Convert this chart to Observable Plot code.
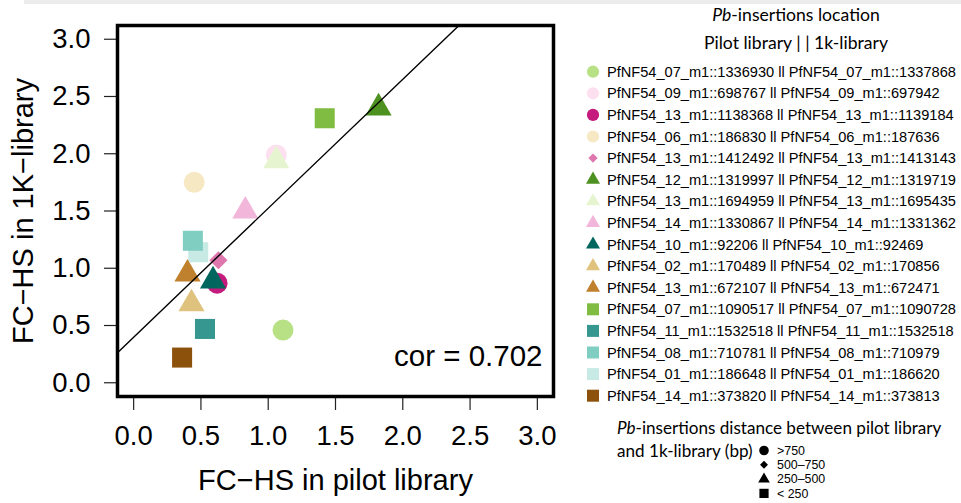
<!DOCTYPE html>
<html>
<head>
<meta charset="utf-8">
<script src="https://cdn.jsdelivr.net/npm/d3@7"></script>
<script src="https://cdn.jsdelivr.net/npm/@observablehq/plot@0.6"></script>
<style>
  html, body { margin: 0; padding: 0; background: #fff; }
  body { width: 961px; height: 503px; position: relative; overflow: hidden; font-family: "Liberation Sans", Arial, sans-serif; }
  #topband { position: absolute; left: 24px; top: 0; width: 937px; height: 4px; background: #ececec; }
  #chart { position: absolute; left: 0; top: 0; }
  #legend { position: absolute; left: 580px; top: 0; }
  svg { overflow: visible; }
</style>
</head>
<body>
<div id="topband"></div>
<div id="chart"></div>
<div id="legend"></div>
<script>
// ---------------- data ----------------
const pilotLoc = [
  "PfNF54_07_m1::1336930", "PfNF54_09_m1::698767", "PfNF54_13_m1::1138368", "PfNF54_06_m1::186830",
  "PfNF54_13_m1::1412492", "PfNF54_12_m1::1319997", "PfNF54_13_m1::1694959", "PfNF54_14_m1::1330867",
  "PfNF54_10_m1::92206", "PfNF54_02_m1::170489", "PfNF54_13_m1::672107", "PfNF54_07_m1::1090517",
  "PfNF54_11_m1::1532518", "PfNF54_08_m1::710781", "PfNF54_01_m1::186648", "PfNF54_14_m1::373820"
];
const k1Loc = [
  "PfNF54_07_m1::1337868", "PfNF54_09_m1::697942", "PfNF54_13_m1::1139184", "PfNF54_06_m1::187636",
  "PfNF54_13_m1::1413143", "PfNF54_12_m1::1319719", "PfNF54_13_m1::1695435", "PfNF54_14_m1::1331362",
  "PfNF54_10_m1::92469", "PfNF54_02_m1::170856", "PfNF54_13_m1::672471", "PfNF54_07_m1::1090728",
  "PfNF54_11_m1::1532518", "PfNF54_08_m1::710979", "PfNF54_01_m1::186620", "PfNF54_14_m1::373813"
];
const pilotFC = [1.11, 1.06, 0.62, 0.45, 0.63, 1.82, 1.06, 0.83, 0.59, 0.43, 0.40, 1.42, 0.53, 0.44, 0.48, 0.36];
const k1FC    = [0.46, 1.99, 0.87, 1.75, 1.07, 2.40, 1.94, 1.50, 0.89, 0.69, 0.95, 2.31, 0.47, 1.24, 1.14, 0.22];
const distClasses = [">750", "500–750", "250–500", "< 250"];
const distClass = [">750", ">750", ">750", ">750", "500–750",
  "250–500", "250–500", "250–500", "250–500", "250–500", "250–500",
  "< 250", "< 250", "< 250", "< 250", "< 250"];
const axisTicks = [0, 0.5, 1, 1.5, 2, 2.5, 3];
const fitCoef = [0.398, 1.126]; // intercept, slope of the drawn line
const corLabel = "cor = 0.702";
const xLabel = "FC−HS in pilot library";
const yLabel = "FC−HS in 1K−library";
const legendTitle1 = ["Pb", "-insertions location"];
const legendTitle2 = "Pilot library | | 1k-library";
const distTitle1 = ["Pb", "-insertions distance between pilot library"];
const distTitle2 = "and 1k-library (bp)";

// ---------------- styles ----------------
const palette = ["#b8e186", "#fde0ef", "#c51b7d", "#f6e8c3", "#de77ae", "#4d9221", "#e6f5d0", "#f1b6da",
  "#01665e", "#dfc27d", "#bf812d", "#7fbc41", "#35978f", "#80cdc1", "#c7eae5", "#8c510a"];
const shapeRange = ["circle", "diamond2", "triangle", "square"];
const drawOrder = [8, 0, 1, 6, 2, 3, 4, 5, 7, 9, 10, 11, 12, 14, 13, 15];
const plotR = {">750": 10.5, "500–750": 8.2, "250–500": 9.7, "< 250": 11.3};

const rows = pilotLoc.map((p, i) => ({key: p + " ll " + k1Loc[i], x: pilotFC[i], y: k1FC[i], cls: distClass[i]}));
const ordered = drawOrder.map(i => rows[i]);
const dom = [-0.12, 3.12];
const linePts = dom.map(x => ({x, y: fitCoef[0] + fitCoef[1] * x}));
const fmt = d => d.toFixed(1);

const chart = Plot.plot({
  width: 570,
  height: 503,
  marginLeft: 117,
  marginRight: 17,
  marginTop: 25,
  marginBottom: 107,
  style: {fontFamily: "'Liberation Sans', Arial, sans-serif", color: "#000", background: "transparent"},
  x: {domain: dom},
  y: {domain: dom},
  symbol: {domain: distClasses, range: shapeRange},
  color: {domain: rows.map(d => d.key), range: palette},
  r: {type: "identity"},
  marks: [
    Plot.axisX(axisTicks, {tickSize: 14, tickPadding: 15, fontSize: 27.5, tickFormat: fmt, label: null, stroke: "#222", strokeWidth: 1.2}),
    Plot.axisY(axisTicks, {tickSize: 13, tickFormat: () => "", label: null, stroke: "#222", strokeWidth: 1.2}),
    Plot.text(axisTicks, {y: d => d, text: fmt, frameAnchor: "left", textAnchor: "end", lineAnchor: "middle", dx: -27, fontSize: 27.5}),
    Plot.dot(ordered, {x: "x", y: "y", symbol: "cls", fill: "key", r: d => plotR[d.cls], stroke: "none"}),
    Plot.line(linePts, {x: "x", y: "y", stroke: "black", strokeWidth: 1.4, clip: true}),
    Plot.frame({stroke: "black", strokeWidth: 3.5}),
    Plot.text([corLabel], {frameAnchor: "bottom-right", text: d => d, textAnchor: "end", lineAnchor: "middle", dx: -11, dy: -40, fontSize: 29.5}),
    Plot.text([xLabel], {frameAnchor: "bottom", text: d => d, textAnchor: "middle", lineAnchor: "middle", dy: 84, fontSize: 29}),
    Plot.text([yLabel], {frameAnchor: "left", text: d => d, textAnchor: "middle", lineAnchor: "middle", rotate: -90, dx: -94, fontSize: 29})
  ]
});
document.getElementById("chart").appendChild(chart);

// ---------------- legend ----------------
const symType = {">750": d3.symbolCircle, "500–750": d3.symbolDiamond2, "250–500": d3.symbolTriangle, "< 250": d3.symbolSquare};
const legSize = {">750": 117, "500–750": 55, "250–500": 85, "< 250": 144};
const distSize = {">750": 72, "500–750": 40, "250–500": 58, "< 250": 85};

const leg = d3.select("#legend").append("svg").attr("width", 381).attr("height", 503);
const titleFont = "Lato, 'Open Sans', sans-serif";

const t1 = leg.append("text").attr("x", 216).attr("y", 15).attr("dy", "0.35em")
  .attr("text-anchor", "middle").attr("font-family", titleFont).attr("font-size", 17.6);
t1.append("tspan").attr("font-style", "italic").text(legendTitle1[0]);
t1.append("tspan").text(legendTitle1[1]);
leg.append("text").attr("x", 216).attr("y", 43).attr("dy", "0.35em")
  .attr("text-anchor", "middle").attr("font-family", titleFont).attr("font-size", 17.6).text(legendTitle2);

rows.forEach((d, i) => {
  const cy = 71.7 + i * 21.6;
  leg.append("path").attr("transform", `translate(13,${cy})`)
    .attr("d", d3.symbol(symType[d.cls], legSize[d.cls])()).attr("fill", palette[i]);
  leg.append("text").attr("x", 27).attr("y", cy).attr("dy", "0.35em")
    .attr("font-family", "'Liberation Sans', Arial, sans-serif").attr("font-size", 14.6).text(d.key);
});

const t3 = leg.append("text").attr("x", 37).attr("y", 428).attr("dy", "0.35em")
  .attr("font-family", titleFont).attr("font-size", 17.1);
t3.append("tspan").attr("font-style", "italic").text(distTitle1[0]);
t3.append("tspan").text(distTitle1[1]);
leg.append("text").attr("x", 37).attr("y", 451).attr("dy", "0.35em")
  .attr("font-family", titleFont).attr("font-size", 17.1).text(distTitle2);

distClasses.forEach((c, k) => {
  const cy = 450.5 + k * 14.3;
  leg.append("path").attr("transform", `translate(184,${cy})`)
    .attr("d", d3.symbol(symType[c], distSize[c])()).attr("fill", "#000");
  leg.append("text").attr("x", 197).attr("y", cy).attr("dy", "0.35em")
    .attr("font-family", "'Liberation Sans', Arial, sans-serif").attr("font-size", 12.4).text(c);
});
</script>
</body>
</html>
